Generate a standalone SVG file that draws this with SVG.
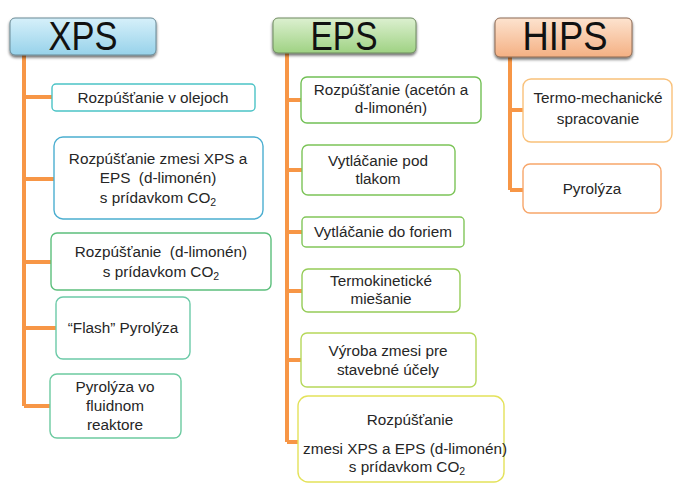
<svg xmlns="http://www.w3.org/2000/svg" width="673" height="484" viewBox="0 0 673 484">
<style>
.t{font-family:"Liberation Sans",Arial,sans-serif;font-size:15.3px;fill:#262626;text-anchor:middle}
.h{font-family:"Liberation Sans",Arial,sans-serif;font-size:41px;fill:#111;text-anchor:middle}
.b{fill:#fff;stroke-width:1.4}
.c{fill:none;stroke:#f79646;stroke-width:4}
.sub{font-size:10.5px}
</style>
<defs>
<linearGradient id="gx" x1="0" y1="0" x2="0" y2="1"><stop offset="0" stop-color="#d6f0fa"/><stop offset="1" stop-color="#97d2ea"/></linearGradient>
<linearGradient id="ge" x1="0" y1="0" x2="0" y2="1"><stop offset="0" stop-color="#dcf0d0"/><stop offset="1" stop-color="#9fd283"/></linearGradient>
<linearGradient id="gh" x1="0" y1="0" x2="0" y2="1"><stop offset="0" stop-color="#fde3cf"/><stop offset="1" stop-color="#f4b083"/></linearGradient>
<filter id="sh" x="-10%" y="-20%" width="120%" height="150%"><feGaussianBlur in="SourceAlpha" stdDeviation="1.5"/><feOffset dx="0" dy="2" result="o"/><feComponentTransfer><feFuncA type="linear" slope="0.6"/></feComponentTransfer><feMerge><feMergeNode/><feMergeNode in="SourceGraphic"/></feMerge></filter>
</defs>
<g id="connectors">
<path class="c" d="M24 55V406M24 97H52M24 179H54M24 262H51M24 328H56M24 406H50"/>
<path class="c" d="M287 53V442M287 100H301M287 170H302M287 232H302M287 291H302M287 360H301M287 442H298"/>
<path class="c" d="M510 57V190M510 110H523M510 190H523"/>
</g>
<g id="xps">
<rect x="10" y="18" width="146" height="37" rx="5" fill="url(#gx)" stroke="#6a8a96" stroke-width="1" filter="url(#sh)"/>
<text class="h" x="83" y="50" textLength="69" lengthAdjust="spacingAndGlyphs">XPS</text>
</g>
<g id="eps">
<rect x="273" y="18" width="143" height="35" rx="5" fill="url(#ge)" stroke="#6f8a60" stroke-width="1" filter="url(#sh)"/>
<text class="h" x="344" y="50" textLength="67" lengthAdjust="spacingAndGlyphs">EPS</text>
</g>
<g id="hips">
<rect x="495" y="18" width="137" height="39" rx="5" fill="url(#gh)" stroke="#8c6a55" stroke-width="1" filter="url(#sh)"/>
<text class="h" x="565" y="50" textLength="85" lengthAdjust="spacingAndGlyphs">HIPS</text>
</g>
<g id="x1">
<rect class="b" x="52" y="84" width="203" height="27" rx="4" stroke="#4bc3c6"/>
<text class="t" x="153" y="102.5">Rozpúšťanie v olejoch</text>
</g>
<g id="x2">
<rect class="b" x="54" y="137" width="209" height="82" rx="9" stroke="#4baed0"/>
<text class="t" x="158" y="164">Rozpúšťanie zmesi XPS a</text>
<text class="t" x="158" y="183" xml:space="preserve">EPS  (d-limonén)</text>
<text class="t" x="158" y="203">s prídavkom CO<tspan class="sub" dy="3">2</tspan></text>
</g>
<g id="x3">
<rect class="b" x="51" y="233" width="220" height="57" rx="6" stroke="#5cbf7c"/>
<text class="t" x="161" y="257" xml:space="preserve">Rozpúšťanie  (d-limonén)</text>
<text class="t" x="161" y="277">s prídavkom CO<tspan class="sub" dy="3">2</tspan></text>
</g>
<g id="x4">
<rect class="b" x="56" y="297" width="134" height="62" rx="7" stroke="#6ccaa8"/>
<text class="t" x="123" y="333">“Flash” Pyrolýza</text>
</g>
<g id="x5">
<rect class="b" x="50" y="374" width="131" height="64" rx="7" stroke="#6ccaa0"/>
<text class="t" x="115" y="392">Pyrolýza vo</text>
<text class="t" x="115" y="411">fluidnom</text>
<text class="t" x="115" y="430">reaktore</text>
</g>
<g id="e1">
<rect class="b" x="301" y="77" width="180" height="46" rx="6" stroke="#72c055"/>
<text class="t" x="391" y="95">Rozpúšťanie (acetón a</text>
<text class="t" x="391" y="113">d-limonén)</text>
</g>
<g id="e2">
<rect class="b" x="302" y="145" width="153" height="50" rx="6" stroke="#7cc458"/>
<text class="t" x="378" y="166">Vytláčanie pod</text>
<text class="t" x="378" y="184">tlakom</text>
</g>
<g id="e3">
<rect class="b" x="302" y="217" width="162" height="30" rx="4" stroke="#82c65a"/>
<text class="t" x="383" y="237">Vytláčanie do foriem</text>
</g>
<g id="e4">
<rect class="b" x="302" y="269" width="158" height="43" rx="6" stroke="#95cc58"/>
<text class="t" x="381" y="286">Termokinetické</text>
<text class="t" x="381" y="304">miešanie</text>
</g>
<g id="e5">
<rect class="b" x="301" y="333" width="175" height="54" rx="6" stroke="#b6d85a"/>
<text class="t" x="388" y="356">Výroba zmesi pre</text>
<text class="t" x="388" y="375">stavebné účely</text>
</g>
<g id="e6">
<rect class="b" x="298" y="396" width="206" height="86" rx="10" stroke="#e4e25a"/>
<text class="t" x="410" y="425">Rozpúšťanie</text>
<text class="t" x="405" y="454">zmesi XPS a EPS (d-limonén)</text>
<text class="t" x="407" y="472">s prídavkom CO<tspan class="sub" dy="3">2</tspan></text>
</g>
<g id="h1">
<rect class="b" x="523" y="79" width="149" height="63" rx="8" stroke="#f9c17a"/>
<text class="t" x="598" y="103">Termo-mechanické</text>
<text class="t" x="598" y="124">spracovanie</text>
</g>
<g id="h2">
<rect class="b" x="523" y="164" width="138" height="49" rx="7" stroke="#f7a66a"/>
<text class="t" x="592" y="194">Pyrolýza</text>
</g>
</svg>
